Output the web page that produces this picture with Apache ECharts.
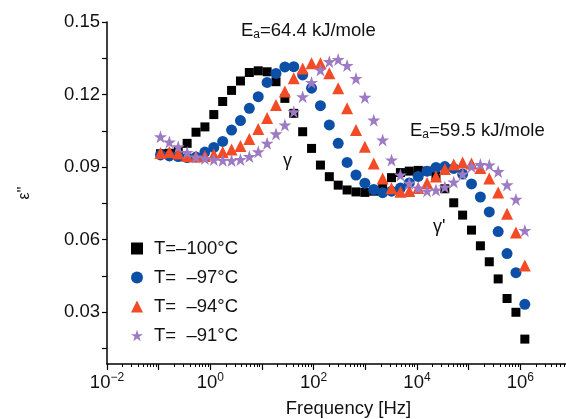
<!DOCTYPE html>
<html>
<head>
<meta charset="utf-8">
<script src="https://cdn.jsdelivr.net/npm/echarts@6/dist/echarts.min.js"></script>
<style>
  html, body { margin: 0; padding: 0; background: #fff; }
  #chart { width: 566px; height: 419px; }
</style>
</head>
<body>
<div id="chart"></div>
<script>
// frequency points (Hz), shared by all four temperatures
var freq = [
  0.1084, 0.1611, 0.2393, 0.3556, 0.5284, 0.7852, 1.167, 1.734, 2.576, 3.828,
  5.689, 8.453, 12.56, 18.66, 27.73, 41.21, 61.24, 91.0, 135.2, 200.9,
  298.5, 443.6, 659.2, 979.5, 1455, 2163, 3214, 4775, 7096, 10540,
  15670, 23280, 34590, 51400, 76380, 113500, 168700, 250600, 372400, 553400,
  822300, 1222000
];

// dielectric loss eps'' at each temperature
var epsT100 = [
  0.0955, 0.0957, 0.0968, 0.0998, 0.1044, 0.1066, 0.1117, 0.1171, 0.1217, 0.1256,
  0.1291, 0.1298, 0.1294, 0.1253, 0.1184, 0.1122, 0.1046, 0.0977, 0.0908, 0.0860,
  0.0825, 0.0805, 0.0797, 0.0795, 0.0800, 0.0818, 0.0856, 0.0877, 0.0883, 0.0886,
  0.0883, 0.0863, 0.0810, 0.0752, 0.0701, 0.0639, 0.0574, 0.0508, 0.0437, 0.0356,
  0.0299, 0.0188
];
var epsT97 = [
  0.0950, 0.0946, 0.0943, 0.0939, 0.0941, 0.0962, 0.0981, 0.1006, 0.1053, 0.1092,
  0.1143, 0.1191, 0.1250, 0.1287, 0.1314, 0.1315, 0.1281, 0.1226, 0.1154, 0.1074,
  0.0998, 0.0919, 0.0867, 0.0833, 0.0807, 0.0794, 0.0800, 0.0813, 0.0834, 0.0861,
  0.0883, 0.0898, 0.0902, 0.0894, 0.0871, 0.0830, 0.0776, 0.0714, 0.0633, 0.0542,
  0.0463, 0.0332
];
var epsT94 = [
  0.0958, 0.0962, 0.0956, 0.0946, 0.0943, 0.0946, 0.0952, 0.0962, 0.0972, 0.0987,
  0.1016, 0.1057, 0.1103, 0.1157, 0.1212, 0.1267, 0.1308, 0.1329, 0.1329, 0.1288,
  0.1226, 0.1143, 0.1053, 0.0984, 0.0915, 0.0853, 0.0812, 0.0798, 0.0801, 0.0813,
  0.0834, 0.0861, 0.0892, 0.0910, 0.0919, 0.0915, 0.0896, 0.0853, 0.0795, 0.0707,
  0.0629, 0.0493
];
var epsT91 = [
  0.1025, 0.1003, 0.0984, 0.0960, 0.0941, 0.0935, 0.0931, 0.0928, 0.0927, 0.0931,
  0.0943, 0.0963, 0.0998, 0.1037, 0.1074, 0.1129, 0.1191, 0.1250, 0.1301, 0.1336,
  0.1345, 0.1320, 0.1266, 0.1188, 0.1094, 0.1012, 0.0929, 0.0867, 0.0833, 0.0813,
  0.0801, 0.0805, 0.0817, 0.0838, 0.0871, 0.0902, 0.0910, 0.0908, 0.0881, 0.0826,
  0.0766, 0.0637
];

var seriesNames = ['T=\u2013100\u00b0C', 'T=  \u201397\u00b0C', 'T=  \u201394\u00b0C', 'T=  \u201391\u00b0C'];

// tick marks / labels
var xMajorTicks = [0.01, 0.1, 1, 10, 100, 1e3, 1e4, 1e5, 1e6, 1e7];
var xLabelValues = [0.01, 1, 100, 1e4, 1e6];
var yLabelValues = [0.03, 0.06, 0.09, 0.12, 0.15];
var yTickValues = [0.015, 0.03, 0.045, 0.06, 0.075, 0.09, 0.105, 0.12, 0.135, 0.15];

// minor log ticks 2..9 in every decade
var xMinorTicks = [];
for (var d = 0; d < xMajorTicks.length - 1; d++) {
  for (var m = 2; m <= 9; m++) {
    xMinorTicks.push(+(xMajorTicks[d] * m).toPrecision(3));
  }
}

var FONT = '"Liberation Sans", Arial, Helvetica, sans-serif';
var FS = 18.5;
var STAR = 'path://M50,0 L61.8,35.3 L98.9,35.3 L68.9,57.1 L80.3,92.5 L50,70.6 L19.7,92.5 L31.1,57.1 L1.1,35.3 L38.2,35.3 Z';

function pairs(ys) {
  return freq.map(function (f, i) { return [f, ys[i]]; });
}

var chart = echarts.init(document.getElementById('chart'));

var option = {
  animation: false,
  backgroundColor: '#fff',
  textStyle: { fontFamily: FONT },
  grid: { left: 107, right: -6, top: 22, bottom: 55, containLabel: false, outerBoundsMode: 'none' },
  legend: {
    orient: 'vertical',
    left: 126,
    top: 234,
    itemWidth: 12,
    itemHeight: 12,
    itemGap: 10,
    data: seriesNames,
    textStyle: { fontFamily: FONT, fontSize: FS, color: '#111', lineHeight: 19, padding: [0, 0, 0, 6] }
  },
  xAxis: [{
    type: 'log',
    logBase: 10,
    min: 0.01,
    max: 1e7,
    name: 'Frequency [Hz]',
    nameLocation: 'middle',
    nameGap: 35,
    nameTextStyle: { fontFamily: FONT, fontSize: FS, color: '#111', padding: [0, 0, 0, 18] },
    axisLine: { lineStyle: { color: '#000', width: 1.5 } },
    axisTick: { inside: false, length: 6, lineStyle: { color: '#000', width: 1.2 }, customValues: xMajorTicks },
    axisLabel: {
      customValues: xLabelValues,
      margin: 8,
      color: '#111',
      fontFamily: FONT,
      fontSize: FS,
      formatter: function (v) {
        var e = Math.round(Math.log10(v));
        return '10{s|' + (e < 0 ? '\u2212' + (-e) : e) + '}';
      },
      rich: {
        s: { fontSize: 12, fontFamily: FONT, color: '#111', padding: [0, 0, 10, 0] }
      }
    },
    splitLine: { show: false }
  }, {
    type: 'log',
    logBase: 10,
    min: 0.01,
    max: 1e7,
    position: 'bottom',
    axisLine: { show: false },
    axisTick: { inside: false, length: 3, lineStyle: { color: '#000', width: 1 }, customValues: xMinorTicks },
    axisLabel: { show: false },
    splitLine: { show: false }
  }],
  yAxis: {
    type: 'value',
    min: 0.0085,
    max: 0.15,
    name: '\u03b5\'\'',
    nameLocation: 'middle',
    nameRotate: 90,
    nameGap: 74,
    nameTextStyle: { fontFamily: FONT, fontSize: 16, color: '#111' },
    axisLine: { show: true, lineStyle: { color: '#000', width: 1.5 } },
    axisTick: { show: true, inside: false, length: 5, lineStyle: { color: '#000', width: 1.2 }, customValues: yTickValues },
    axisLabel: {
      customValues: yLabelValues,
      margin: 7,
      color: '#111',
      fontFamily: FONT,
      fontSize: FS,
      formatter: function (v) { return v.toFixed(2); }
    },
    splitLine: { show: false }
  },
  series: [
    { name: seriesNames[0], type: 'scatter', symbol: 'rect', symbolSize: 9, itemStyle: { color: '#000', opacity: 1 }, data: pairs(epsT100) },
    { name: seriesNames[1], type: 'scatter', symbol: 'circle', symbolSize: 11, itemStyle: { color: '#0b50a6', opacity: 1 }, data: pairs(epsT97) },
    { name: seriesNames[2], type: 'scatter', symbol: 'triangle', symbolSize: 12, itemStyle: { color: '#f24b25', opacity: 1 }, data: pairs(epsT94) },
    { name: seriesNames[3], type: 'scatter', symbol: STAR, symbolSize: 13, itemStyle: { color: '#9d7bc4', opacity: 1 }, data: pairs(epsT91) }
  ],
  graphic: [
    { type: 'text', left: 241, top: 21, style: { text: 'E{a|a}=64.4 kJ/mole', fontFamily: FONT, fontSize: FS, fill: '#111',
      rich: { a: { fontSize: 12, fontFamily: FONT, padding: [8, 0, 0, 0], fill: '#111' } } } },
    { type: 'text', left: 410, top: 121, style: { text: 'E{a|a}=59.5 kJ/mole', fontFamily: FONT, fontSize: FS, fill: '#111',
      rich: { a: { fontSize: 12, fontFamily: FONT, padding: [8, 0, 0, 0], fill: '#111' } } } },
    { type: 'text', left: 283, top: 152, style: { text: '\u03b3', fontFamily: FONT, fontSize: 18, fill: '#111' } },
    { type: 'text', left: 433, top: 218, style: { text: '\u03b3\'', fontFamily: FONT, fontSize: 18, fill: '#111' } }
  ]
};

chart.setOption(option);
</script>
</body>
</html>
